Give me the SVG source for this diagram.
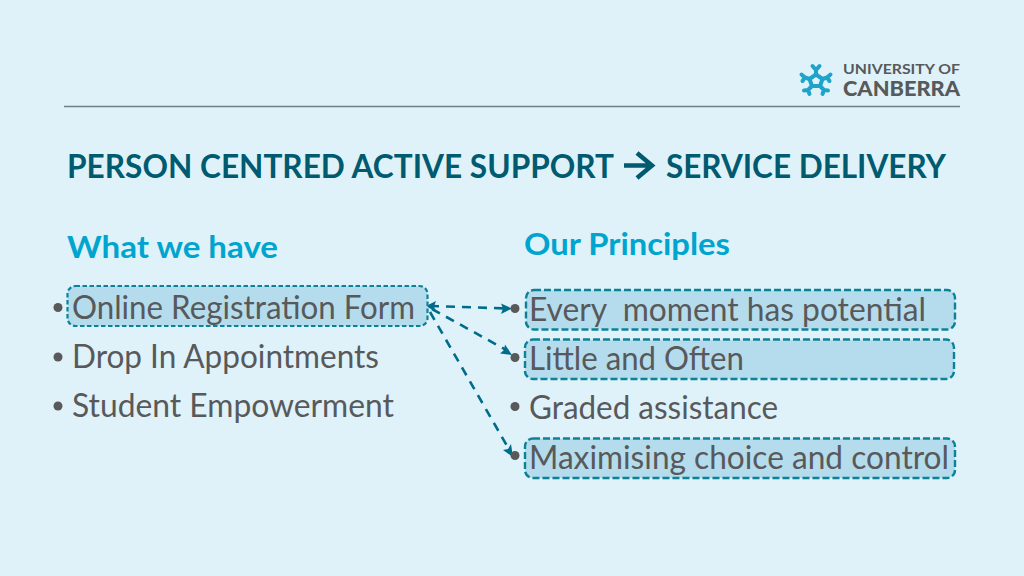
<svg xmlns="http://www.w3.org/2000/svg" width="1024" height="576" viewBox="0 0 1024 576">
<style>
text{font-family:Lato,"Open Sans","Liberation Sans",sans-serif;white-space:pre}
.title{font-size:32px;font-weight:700;fill:#005a70}
.head{font-size:31px;font-weight:700;fill:#00a5cf}
.item{font-size:32px;fill:#58595b}
.dot{fill:#58595b}
.box{fill:#b5dcec;stroke:#0c8298;stroke-width:2.400;stroke-dasharray:7 3}
.fine{stroke-width:2.200;stroke-dasharray:4.500 2.500}
.conn{fill:none;stroke:#006c8c;stroke-width:2.600;stroke-dasharray:9 7}
.ah{fill:#006c8c}
</style>
<rect width="1024" height="576" fill="#dff2f9"/>
<line x1="64" y1="106.500" x2="960" y2="106.500" stroke="#6b7f86" stroke-width="1.500"/>
<g id="logo">
<g fill="none" stroke="#1fa3c9" stroke-width="4" stroke-linejoin="round" stroke-linecap="round">
<path d="M816 74.500 L822.500 79 L820 86 L812 86 L809.500 79 Z"/>
<path d="M816 74.500 V70 M812.500 66 L816 70 L819.500 66"/>
<path d="M822.500 79 L827 77.500 M830.500 74.500 L827 77.500 L829.500 81"/>
<path d="M809.500 79 L805 77.500 M801.500 74.500 L805 77.500 L802.500 81"/>
<path d="M820 86 L824 90 M828 90.500 L824 90 L822.500 94"/>
<path d="M812 86 L808 90 M804 90.500 L808 90 L809.500 94"/>
</g>
<text x="843" y="74" font-size="14" font-weight="700" fill="#58595b" textLength="117" lengthAdjust="spacingAndGlyphs">UNIVERSITY OF</text>
<text x="843" y="95.500" font-size="20" font-weight="900" fill="#58595b" textLength="117" lengthAdjust="spacingAndGlyphs">CANBERRA</text>
</g>
<g id="title">
<text class="title" x="67" y="178" textLength="547" lengthAdjust="spacingAndGlyphs">PERSON CENTRED ACTIVE SUPPORT</text>
<path d="M624 165.500 H652 M637 153 L652 165.500 L637 178" fill="none" stroke="#005a70" stroke-width="4.500"/>
<text class="title" x="666" y="178" textLength="280" lengthAdjust="spacingAndGlyphs">SERVICE DELIVERY</text>
</g>
<g id="head-left"><text class="head" x="67" y="258" textLength="211" lengthAdjust="spacingAndGlyphs">What we have</text></g>
<g id="head-right"><text class="head" x="524" y="255" textLength="206" lengthAdjust="spacingAndGlyphs">Our Principles</text></g>
<g id="connectors">
<path class="conn" d="M430 306 L508 308.500"/>
<path class="conn" d="M432 309 L508 351"/>
<path class="conn" d="M430 312 L510 451"/>
<path class="ah" d="M426 306 L436 301 L434 306.500 L436 312 Z"/>
<path class="ah" d="M512 308.500 L501 303.500 L503 308.500 L501 314 Z"/>
<path class="ah" d="M512 355 L500 353.500 L504 350 L505 344.500 Z"/>
<path class="ah" d="M513 457 L503 450 L508 449 L511 444 Z"/>
</g>
<g id="node-online"><rect class="box fine" x="67.500" y="286" width="360" height="40" rx="8"/><circle class="dot" cx="58" cy="307.500" r="4.500"/><text class="item" x="72" y="319" textLength="343" lengthAdjust="spacingAndGlyphs">Online Registration Form</text></g>
<g id="node-dropin"><circle class="dot" cx="58" cy="357" r="4.500"/><text class="item" x="72" y="368" textLength="307" lengthAdjust="spacingAndGlyphs">Drop In Appointments</text></g>
<g id="node-student"><circle class="dot" cx="58" cy="406" r="4.500"/><text class="item" x="72" y="417" textLength="322" lengthAdjust="spacingAndGlyphs">Student Empowerment</text></g>
<g id="node-every"><rect class="box" x="526" y="290" width="429" height="39.500" rx="8"/><circle class="dot" cx="515" cy="308.500" r="4.500"/><text class="item" x="529" y="321" textLength="397" lengthAdjust="spacingAndGlyphs">Every  moment has potential</text></g>
<g id="node-little"><rect class="box" x="525" y="339.500" width="429" height="39.500" rx="8"/><circle class="dot" cx="515" cy="357.500" r="4.500"/><text class="item" x="529" y="370" textLength="215" lengthAdjust="spacingAndGlyphs">Little and Often</text></g>
<g id="node-graded"><circle class="dot" cx="515" cy="406.500" r="4.500"/><text class="item" x="529" y="419" textLength="249" lengthAdjust="spacingAndGlyphs">Graded assistance</text></g>
<g id="node-max"><rect class="box" x="525" y="438.500" width="430" height="39.500" rx="8"/><circle class="dot" cx="515" cy="455.500" r="4.500"/><text class="item" x="529" y="469" textLength="420" lengthAdjust="spacingAndGlyphs">Maximising choice and control</text></g>
</svg>
